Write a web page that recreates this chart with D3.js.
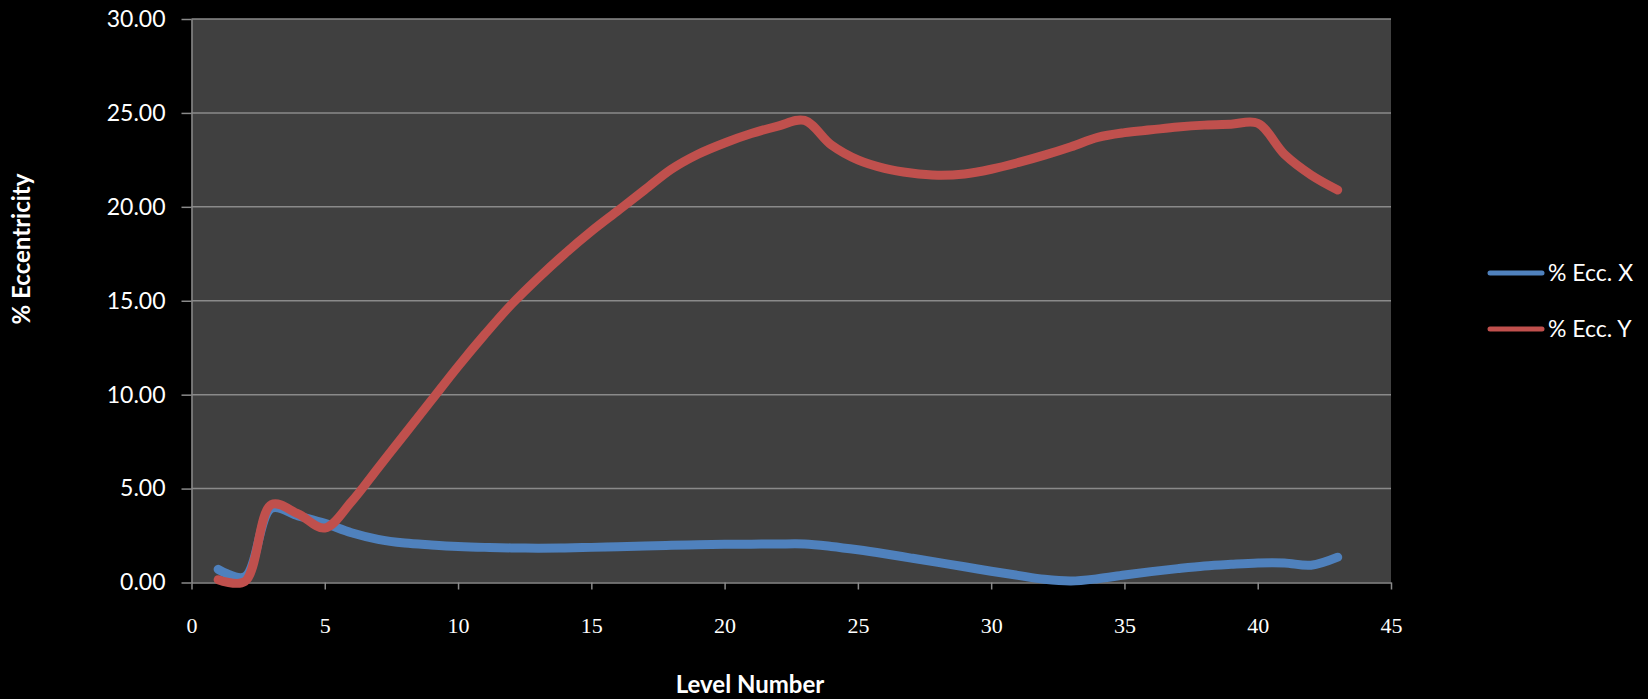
<!DOCTYPE html>
<html>
<head>
<meta charset="utf-8">
<script src="https://cdn.jsdelivr.net/npm/d3@7"></script>
<style>
  html, body { margin: 0; padding: 0; background: #000; }
  svg { display: block; }
  .ytick text { font-family: Lato, "Open Sans", sans-serif; font-size: 23px; fill: #fff; }
  .xtick text { font-family: "Liberation Serif", serif; font-size: 22px; fill: #fff; font-variant-numeric: oldstyle-nums; }
  .title { font-family: Lato, "Open Sans", sans-serif; font-weight: bold; font-size: 24px; fill: #fff; }
  .legend text { font-family: Lato, "Open Sans", sans-serif; font-size: 23px; fill: #fff; }
</style>
</head>
<body>
<svg id="chart" width="1648" height="699"></svg>
<script>
// Eccentricity per level
const levels = d3.range(1, 44);
const eccX = [0.7, 0.3, 3.95, 3.55, 3.15, 2.65, 2.3, 2.1, 2.0, 1.92,
              1.87, 1.84, 1.83, 1.84, 1.87, 1.9, 1.94, 1.98, 2.01, 2.03,
              2.04, 2.05, 2.05, 1.92, 1.74, 1.53, 1.3, 1.07, 0.84, 0.6,
              0.38, 0.17, 0.08, 0.2, 0.4, 0.58, 0.74, 0.88, 0.97, 1.04,
              1.04, 0.92, 1.35];
const eccY = [0.15, 0.05, 4.15, 3.65, 2.9, 4.3, 6.1, 7.9, 9.7, 11.5,
              13.2, 14.8, 16.2, 17.5, 18.7, 19.8, 20.9, 22.0, 22.8, 23.4,
              23.9, 24.3, 24.6, 23.3, 22.5, 22.05, 21.8, 21.68, 21.75, 22.0,
              22.35, 22.75, 23.2, 23.7, 23.95, 24.1, 24.25, 24.35, 24.4, 24.45,
              22.8, 21.7, 20.9];
const seriesNames = ["% Ecc. X", "% Ecc. Y"];
const seriesColors = ["#4F81BD", "#C0504D"];
const xTicks = d3.range(0, 50, 5);
const yTicks = d3.range(0, 35, 5);

const svg = d3.select("#chart");
const plot = { left: 191.5, right: 1391, top: 19, bottom: 582.5 };

const x = d3.scaleLinear().domain([0, 45]).range([plot.left, plot.right]);
const y = d3.scaleLinear().domain([0, 30]).range([plot.bottom, plot.top]);

// plot area background
svg.append("rect")
  .attr("x", plot.left).attr("y", plot.top)
  .attr("width", plot.right - plot.left).attr("height", plot.bottom - plot.top)
  .attr("fill", "#404040");

// horizontal gridlines
svg.append("g").selectAll("line").data(yTicks.filter(d => d > 0)).join("line")
  .attr("x1", plot.left).attr("x2", plot.right)
  .attr("y1", d => y(d)).attr("y2", d => y(d))
  .attr("stroke", "#8a8a8a").attr("stroke-width", 1.5);

// y axis
const yAxis = svg.append("g").attr("class", "ytick")
  .attr("transform", `translate(${plot.left},0)`)
  .call(d3.axisLeft(y).tickValues(yTicks).tickFormat(d3.format(".2f"))
    .tickSize(10).tickSizeOuter(0).tickPadding(16));
yAxis.select(".domain").attr("stroke", "#8a8a8a").attr("stroke-width", 1.5);
yAxis.selectAll(".tick line").attr("stroke", "#8a8a8a").attr("stroke-width", 1.5);

// x axis
const xAxis = svg.append("g").attr("class", "xtick")
  .attr("transform", `translate(0,${plot.bottom})`)
  .call(d3.axisBottom(x).tickValues(xTicks).tickFormat(d3.format("d"))
    .tickSize(7).tickSizeOuter(0).tickPadding(28));
xAxis.select(".domain").attr("stroke", "#8a8a8a").attr("stroke-width", 1.5);
xAxis.selectAll(".tick line").attr("stroke", "#8a8a8a").attr("stroke-width", 1.5);

// smoothed series lines (centripetal Catmull-Rom)
const line = d3.line()
  .x((d, i) => x(levels[i]))
  .y(d => y(d))
  .curve(d3.curveCatmullRom.alpha(0.5));

[eccX, eccY].forEach((vals, k) => {
  svg.append("path")
    .datum(vals)
    .attr("d", line)
    .attr("fill", "none")
    .attr("stroke", seriesColors[k])
    .attr("stroke-width", 9)
    .attr("stroke-linecap", "round")
    .attr("stroke-linejoin", "round");
});

// axis titles
svg.append("text").attr("class", "title")
  .attr("transform", "translate(30,249) rotate(-90)")
  .attr("text-anchor", "middle")
  .text("% Eccentricity");

svg.append("text").attr("class", "title")
  .attr("x", 750).attr("y", 693)
  .attr("text-anchor", "middle")
  .text("Level Number");

// legend
const legend = svg.append("g").attr("class", "legend");
seriesNames.forEach((name, k) => {
  const ly = 273 + k * 56;
  legend.append("line")
    .attr("x1", 1490).attr("x2", 1542)
    .attr("y1", ly).attr("y2", ly)
    .attr("stroke", seriesColors[k]).attr("stroke-width", 5)
    .attr("stroke-linecap", "round");
  legend.append("text")
    .attr("x", 1548).attr("y", ly)
    .attr("dy", "0.36em")
    .text(name);
});
</script>
</body>
</html>
